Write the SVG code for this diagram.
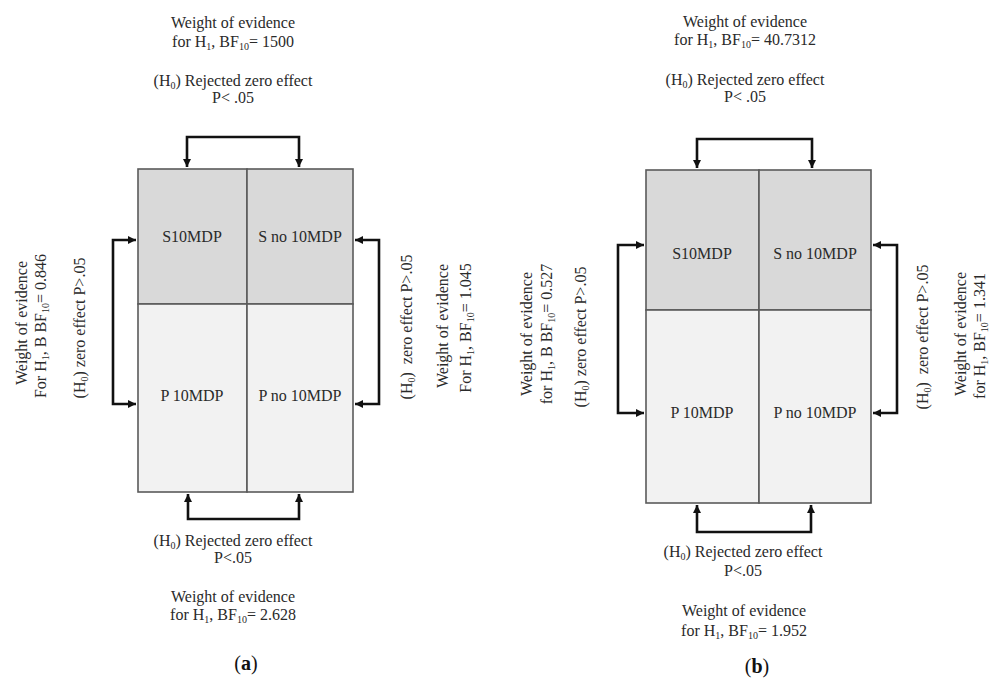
<svg xmlns="http://www.w3.org/2000/svg" width="989" height="684" viewBox="0 0 989 684">
<style>
text{font-family:"Liberation Serif","Times New Roman",serif;font-size:16px;fill:#2a2a2a}
.c{text-anchor:middle}
.sub{font-size:10px}
.top{fill:#d9d9d9;stroke:#5a5a5a;stroke-width:1.6}
.bot{fill:#f2f2f2;stroke:#5a5a5a;stroke-width:1.6}
.br{fill:none;stroke:#111;stroke-width:2.6;marker-start:url(#ah);marker-end:url(#ah)}
.cap{font-size:20px;text-anchor:middle;fill:#111}
</style>
<defs>
<marker id="ah" markerUnits="userSpaceOnUse" markerWidth="10" markerHeight="10" refX="8" refY="4" orient="auto-start-reverse">
<path d="M0,0 L8,4 L0,8 z" fill="#111"/>
</marker>
</defs>
<rect width="989" height="684" fill="#fff"/>

<!-- Panel (a) -->
<g id="a-S10MDP"><rect class="top" x="138" y="169" width="109" height="135"/><text class="c" x="192" y="242">S10MDP</text></g>
<g id="a-Sno10MDP"><rect class="top" x="247" y="169" width="106" height="135"/><text class="c" x="300" y="242">S no 10MDP</text></g>
<g id="a-P10MDP"><rect class="bot" x="138" y="304" width="109" height="188"/><text class="c" x="192" y="401">P 10MDP</text></g>
<g id="a-Pno10MDP"><rect class="bot" x="247" y="304" width="106" height="188"/><text class="c" x="300" y="401">P no 10MDP</text></g>

<!-- Panel (b) -->
<g id="b-S10MDP"><rect class="top" x="646" y="170" width="113" height="140"/><text class="c" x="702" y="259">S10MDP</text></g>
<g id="b-Sno10MDP"><rect class="top" x="759" y="170" width="112" height="140"/><text class="c" x="815" y="259">S no 10MDP</text></g>
<g id="b-P10MDP"><rect class="bot" x="646" y="310" width="113" height="193"/><text class="c" x="702" y="418">P 10MDP</text></g>
<g id="b-Pno10MDP"><rect class="bot" x="759" y="310" width="112" height="193"/><text class="c" x="815" y="418">P no 10MDP</text></g>

<g id="connectors">
<path class="br" d="M187,167 V137 H299 V167"/>
<path class="br" d="M188,494 V519 H299 V494"/>
<path class="br" d="M136,240 H113 V404 H136"/>
<path class="br" d="M355,240 H379 V404 H355"/>
<path class="br" d="M697,168 V139 H812 V168"/>
<path class="br" d="M697,505 V532 H811 V505"/>
<path class="br" d="M644,245 H618 V413 H644"/>
<path class="br" d="M873,245 H897 V413 H873"/>
</g>

<g id="labels-a">
<text class="c" x="233" y="28">Weight of evidence</text>
<text class="c" x="233" y="47">for H<tspan class="sub" dy="3">1</tspan><tspan dy="-3">, BF</tspan><tspan class="sub" dy="3">10</tspan><tspan dy="-3">= 1500</tspan></text>
<text class="c" x="233" y="86">(H<tspan class="sub" dy="3">0</tspan><tspan dy="-3">) Rejected zero effect</tspan></text>
<text class="c" x="233" y="103">P&lt; .05</text>
<text class="c" x="233" y="546">(H<tspan class="sub" dy="3">0</tspan><tspan dy="-3">) Rejected zero effect</tspan></text>
<text class="c" x="233" y="563">P&lt;.05</text>
<text class="c" x="233" y="602">Weight of evidence</text>
<text class="c" x="233" y="620">for H<tspan class="sub" dy="3">1</tspan><tspan dy="-3">, BF</tspan><tspan class="sub" dy="3">10</tspan><tspan dy="-3">= 2.628</tspan></text>
<text class="c" transform="translate(27,323) rotate(-90)">Weight of evidence</text>
<text class="c" transform="translate(46,326) rotate(-90)">For H<tspan class="sub" dy="3">1</tspan><tspan dy="-3">, B BF</tspan><tspan class="sub" dy="3">10</tspan><tspan dy="-3">= 0.846</tspan></text>
<text class="c" transform="translate(85,328) rotate(-90)">(H<tspan class="sub" dy="3">0</tspan><tspan dy="-3">) zero effect P&gt;.05</tspan></text>
<text class="c" transform="translate(412,327) rotate(-90)" xml:space="preserve">(H<tspan class="sub" dy="3">0</tspan><tspan dy="-3">)  zero effect P&gt;.05</tspan></text>
<text class="c" transform="translate(448,326) rotate(-90)">Weight of evidence</text>
<text class="c" transform="translate(471,328) rotate(-90)">For H<tspan class="sub" dy="3">1</tspan><tspan dy="-3">, BF</tspan><tspan class="sub" dy="3">10</tspan><tspan dy="-3">= 1.045</tspan></text>
<text class="cap" x="246" y="670">(<tspan font-weight="bold">a</tspan>)</text>
</g>

<g id="labels-b">
<text class="c" x="745" y="27">Weight of evidence</text>
<text class="c" x="745" y="45">for H<tspan class="sub" dy="3">1</tspan><tspan dy="-3">, BF</tspan><tspan class="sub" dy="3">10</tspan><tspan dy="-3">= 40.7312</tspan></text>
<text class="c" x="745" y="85">(H<tspan class="sub" dy="3">0</tspan><tspan dy="-3">) Rejected zero effect</tspan></text>
<text class="c" x="745" y="102">P&lt; .05</text>
<text class="c" x="743" y="557">(H<tspan class="sub" dy="3">0</tspan><tspan dy="-3">) Rejected zero effect</tspan></text>
<text class="c" x="743" y="576">P&lt;.05</text>
<text class="c" x="744" y="616">Weight of evidence</text>
<text class="c" x="744" y="636">for H<tspan class="sub" dy="3">1</tspan><tspan dy="-3">, BF</tspan><tspan class="sub" dy="3">10</tspan><tspan dy="-3">= 1.952</tspan></text>
<text class="c" transform="translate(532,334) rotate(-90)">Weight of evidence</text>
<text class="c" transform="translate(552,334) rotate(-90)">for H<tspan class="sub" dy="3">1</tspan><tspan dy="-3">, B BF</tspan><tspan class="sub" dy="3">10</tspan><tspan dy="-3">= 0.527</tspan></text>
<text class="c" transform="translate(586,337) rotate(-90)">(H<tspan class="sub" dy="3">0</tspan><tspan dy="-3">) zero effect P&gt;.05</tspan></text>
<text class="c" transform="translate(928,337) rotate(-90)" xml:space="preserve">(H<tspan class="sub" dy="3">0</tspan><tspan dy="-3">)  zero effect P&gt;.05</tspan></text>
<text class="c" transform="translate(966,334) rotate(-90)">Weight of evidence</text>
<text class="c" transform="translate(985,336) rotate(-90)">for H<tspan class="sub" dy="3">1</tspan><tspan dy="-3">, BF</tspan><tspan class="sub" dy="3">10</tspan><tspan dy="-3">= 1.341</tspan></text>
<text class="cap" x="757" y="673">(<tspan font-weight="bold">b</tspan>)</text>
</g>
</svg>
